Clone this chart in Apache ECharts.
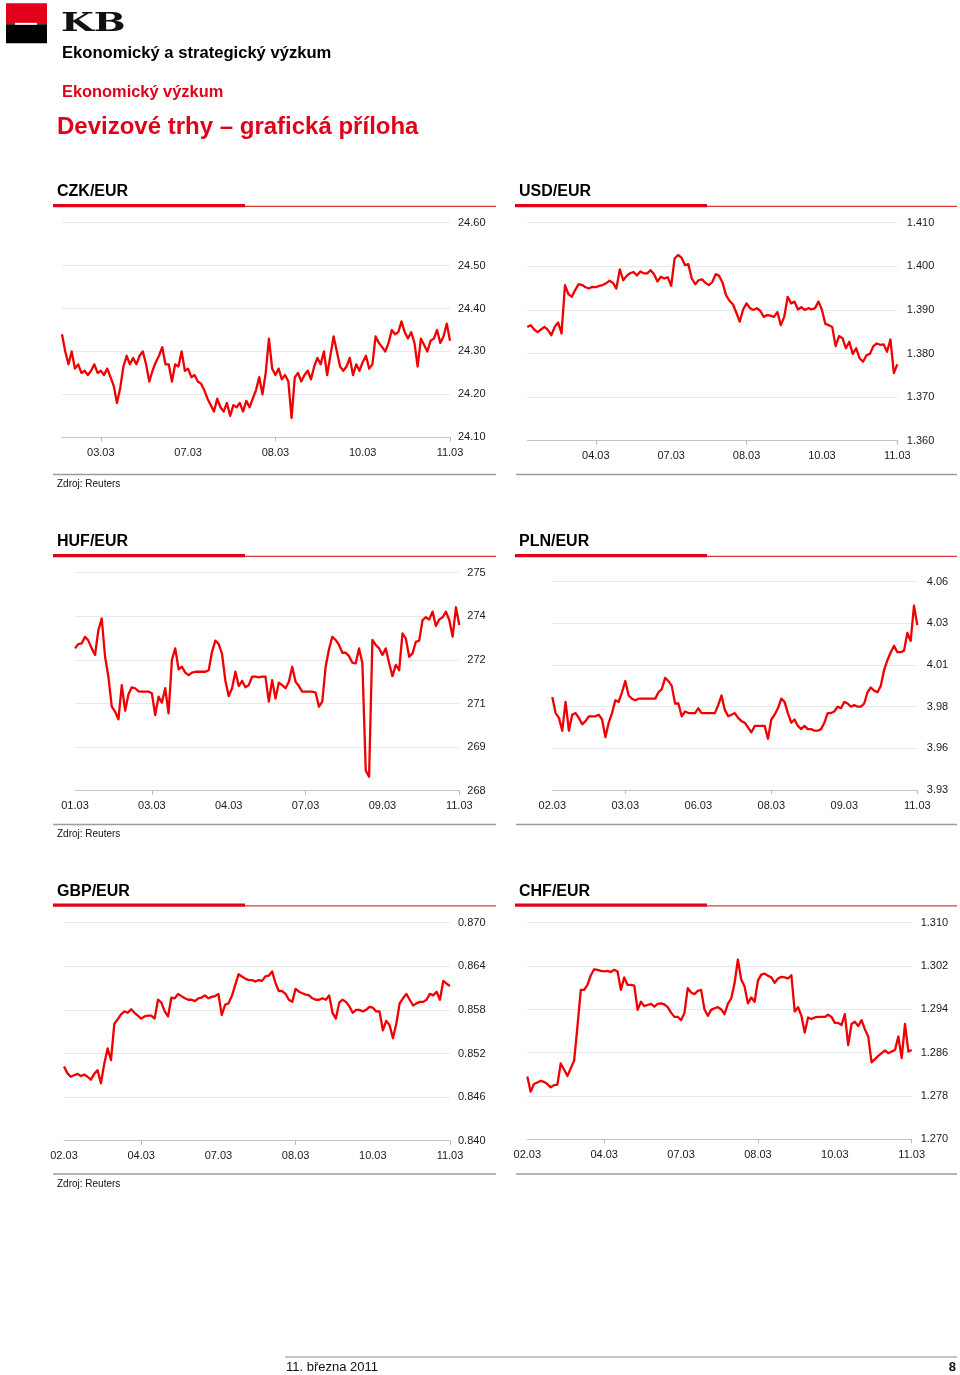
<!DOCTYPE html>
<html>
<head>
<meta charset="utf-8">
<script src="https://cdn.jsdelivr.net/npm/echarts@6/dist/echarts.min.js"></script>
<style>
html,body{margin:0;padding:0;background:#fff;}
#c{width:960px;height:1375px;}
</style>
</head>
<body>
<div id="c"></div>
<script>
// ---------- DATA ----------
const czkValues = [24.34,24.30,24.27,24.30,24.26,24.27,24.25,24.255,24.245,24.255,
 24.27,24.25,24.255,24.245,24.26,24.24,24.22,24.18,24.215,24.265,
 24.29,24.27,24.285,24.27,24.29,24.30,24.27,24.23,24.255,24.275,
 24.29,24.31,24.27,24.27,24.23,24.27,24.265,24.30,24.255,24.26,
 24.24,24.245,24.23,24.225,24.21,24.19,24.175,24.16,24.19,24.17,
 24.16,24.18,24.15,24.175,24.17,24.18,24.16,24.185,24.17,24.19,
 24.21,24.24,24.20,24.25,24.33,24.26,24.245,24.26,24.235,24.245,
 24.23,24.145,24.24,24.25,24.23,24.245,24.255,24.235,24.265,24.285,
 24.27,24.30,24.245,24.29,24.335,24.30,24.265,24.255,24.265,24.285,
 24.245,24.27,24.255,24.275,24.29,24.26,24.27,24.335,24.32,24.31,
 24.30,24.32,24.35,24.34,24.345,24.37,24.345,24.33,24.345,24.32,
 24.265,24.33,24.315,24.30,24.325,24.33,24.35,24.32,24.335,24.365,
 24.325];
const czkLabels = ['03.03','07.03','08.03','10.03','11.03'];
const czkLabelIdx = [12,39,66,93,120];
const czkTickIdx = [12,66,120];
const czkAxis = [24.10, 24.60, 0.10];

const usdValues = [1.3861,1.3865,1.3855,1.3849,1.3855,1.3861,1.3854,1.3842,1.3861,1.3871,
 1.3846,1.3957,1.3936,1.3930,1.3946,1.3959,1.3957,1.3952,1.3949,1.3953,
 1.3952,1.3955,1.3957,1.3961,1.3967,1.3962,1.3949,1.3993,1.3968,1.3978,
 1.3984,1.3987,1.3979,1.3988,1.3984,1.3984,1.3991,1.3982,1.3965,1.3976,
 1.3972,1.3975,1.3955,1.4018,1.4026,1.4020,1.4003,1.4005,1.3972,1.3959,
 1.3968,1.3970,1.3962,1.3957,1.3964,1.3982,1.3978,1.3962,1.3934,1.3921,
 1.3913,1.3894,1.3873,1.3901,1.3915,1.3904,1.3900,1.3904,1.3898,1.3884,
 1.3888,1.3887,1.3884,1.3895,1.3865,1.3884,1.3930,1.3915,1.3919,1.3901,
 1.3906,1.3900,1.3904,1.3901,1.3904,1.3919,1.3900,1.3868,1.3865,1.3861,
 1.3817,1.3840,1.3835,1.3812,1.3827,1.3799,1.3812,1.3789,1.3781,1.3796,
 1.3799,1.3817,1.3823,1.3820,1.3821,1.3804,1.3832,1.3755,1.3775];
const usdLabels = ['04.03','07.03','08.03','10.03','11.03'];
const usdLabelIdx = [20,42,64,86,108];
const usdTickIdx = [20,64,108];
const usdAxis = [1.360, 1.410, 0.010];

const hufValues = [272.57,272.71,272.73,272.94,272.82,272.57,272.36,273.16,273.53,272.30,
 271.66,270.70,270.54,270.29,271.39,270.57,271.10,271.32,271.29,271.19,
 271.18,271.18,271.18,271.13,270.43,271.02,270.83,271.29,270.48,272.20,
 272.57,271.90,271.98,271.79,271.71,271.79,271.82,271.82,271.82,271.82,
 271.87,272.46,272.82,272.71,272.39,271.53,271.04,271.29,271.82,271.36,
 271.53,271.32,271.39,271.66,271.66,271.64,271.66,271.66,270.86,271.55,
 270.96,271.47,271.39,271.29,271.50,271.98,271.50,271.36,271.18,271.18,
 271.18,271.18,271.15,270.70,270.86,271.98,272.54,272.94,272.84,272.68,
 272.43,272.43,272.32,272.11,272.09,272.57,272.09,268.65,268.45,272.84,
 272.68,272.57,272.36,272.57,272.09,271.68,272.04,271.87,273.05,272.89,
 272.30,272.41,272.78,272.82,273.48,273.57,273.50,273.75,273.29,273.50,
 273.57,273.75,273.48,272.95,273.89,273.32];
const hufLabels = ['01.03','03.03','04.03','07.03','09.03','11.03'];
const hufLabelIdx = [0,23,46,69,92,115];
const hufTickIdx = [23,69,115];
const hufAxis = [268, 275, 1.4];

const plnValues = [3.988,3.978,3.975,3.967,3.985,3.967,3.977,3.978,3.975,3.971,
 3.973,3.976,3.976,3.976,3.977,3.974,3.963,3.972,3.978,3.986,
 3.985,3.991,3.998,3.989,3.987,3.986,3.987,3.987,3.987,3.987,
 3.987,3.987,3.991,3.993,4.000,3.998,3.995,3.984,3.984,3.976,
 3.979,3.978,3.978,3.978,3.981,3.978,3.978,3.978,3.978,3.978,
 3.983,3.989,3.980,3.976,3.977,3.978,3.975,3.973,3.972,3.969,
 3.966,3.970,3.970,3.970,3.970,3.962,3.974,3.977,3.981,3.987,
 3.985,3.978,3.972,3.974,3.970,3.968,3.970,3.968,3.968,3.967,
 3.967,3.968,3.972,3.978,3.978,3.979,3.982,3.981,3.985,3.984,
 3.982,3.983,3.982,3.982,3.984,3.991,3.994,3.992,3.991,3.995,
 4.005,4.011,4.016,4.020,4.016,4.016,4.017,4.028,4.023,4.045,
 4.033];
const plnLabels = ['02.03','03.03','06.03','08.03','09.03','11.03'];
const plnLabelIdx = [0,22,44,66,88,110];
const plnTickIdx = [22,66,110];
const plnAxis = [3.93, 4.06, 0.026];

const gbpValues = [0.8502,0.8493,0.8488,0.8490,0.8492,0.8489,0.8491,0.8488,0.8484,0.8492,
 0.8497,0.8479,0.8506,0.8527,0.8511,0.8561,0.8567,0.8574,0.8578,0.8576,
 0.8581,0.8576,0.8572,0.8568,0.8571,0.8572,0.8572,0.8568,0.8594,0.8590,
 0.8578,0.8571,0.8597,0.8596,0.8602,0.8599,0.8596,0.8594,0.8594,0.8592,
 0.8596,0.8597,0.8600,0.8596,0.8598,0.8599,0.8602,0.8573,0.8587,0.8589,
 0.8599,0.8614,0.8629,0.8626,0.8623,0.8621,0.8621,0.8619,0.8621,0.8620,
 0.8626,0.8627,0.8633,0.8617,0.8606,0.8606,0.8602,0.8594,0.8591,0.8609,
 0.8605,0.8603,0.8601,0.8600,0.8596,0.8594,0.8594,0.8596,0.8594,0.8600,
 0.8576,0.8568,0.8590,0.8594,0.8591,0.8585,0.8576,0.8580,0.8580,0.8578,
 0.8580,0.8584,0.8583,0.8578,0.8578,0.8552,0.8565,0.8559,0.8541,0.8561,
 0.8589,0.8596,0.8602,0.8594,0.8586,0.8589,0.8591,0.8591,0.8594,0.8602,
 0.8600,0.8605,0.8594,0.8620,0.8616,0.8613];
const gbpLabels = ['02.03','04.03','07.03','08.03','10.03','11.03'];
const gbpLabelIdx = [0,23,46,69,92,115];
const gbpTickIdx = [23,69,115];
const gbpAxis = [0.840, 0.870, 0.006];

const chfValues = [1.2816,1.2788,1.2802,1.2805,1.2808,1.2806,1.2802,1.2796,1.2800,1.2801,
 1.2840,1.2829,1.2817,1.2831,1.2845,1.2908,1.2976,1.2976,1.2985,1.3003,
 1.3014,1.3013,1.3011,1.3010,1.3011,1.3009,1.3013,1.3010,1.2976,1.2999,
 1.2985,1.2985,1.2984,1.2939,1.2954,1.2946,1.2948,1.2950,1.2945,1.2950,
 1.2951,1.2949,1.2944,1.2934,1.2926,1.2926,1.2920,1.2933,1.2979,1.2971,
 1.2968,1.2974,1.2976,1.2940,1.2928,1.2939,1.2942,1.2944,1.2940,1.2931,
 1.2950,1.2960,1.2988,1.3032,1.2995,1.2982,1.2951,1.2962,1.2954,1.2993,
 1.3004,1.3006,1.3002,1.2999,1.2989,1.2997,1.3000,1.2999,1.2997,1.3003,
 1.2936,1.2944,1.2928,1.2897,1.2925,1.2922,1.2925,1.2926,1.2926,1.2926,
 1.2930,1.2926,1.2915,1.2915,1.2911,1.2931,1.2874,1.2913,1.2917,1.2909,
 1.2920,1.2903,1.2890,1.2842,1.2848,1.2854,1.2859,1.2864,1.2859,1.2862,
 1.2865,1.2890,1.2850,1.2913,1.2862,1.2865];
const chfLabels = ['02.03','04.03','07.03','08.03','10.03','11.03'];
const chfLabelIdx = [0,23,46,69,92,115];
const chfTickIdx = [23,69,115];
const chfAxis = [1.270, 1.310, 0.008];

const panelTitles = ['CZK/EUR','USD/EUR','HUF/EUR','PLN/EUR','GBP/EUR','CHF/EUR'];

// ---------- BUILD ----------
const RED = '#e2001a';
const LINE_RED = '#f00000';
const FONT = 'Liberation Sans, Arial, Helvetica, sans-serif';

const panels = [
  {v:czkValues, lab:czkLabels, li:czkLabelIdx, ti:czkTickIdx, ax:czkAxis, dec:2, grid:{left:62, top:222.7, width:388, height:214.6}, ym:8},
  {v:usdValues, lab:usdLabels, li:usdLabelIdx, ti:usdTickIdx, ax:usdAxis, dec:3, grid:{left:527.3, top:222.7, width:370, height:218}, ym:9.5},
  {v:hufValues, lab:hufLabels, li:hufLabelIdx, ti:hufTickIdx, ax:hufAxis, dec:0, grid:{left:75, top:572.7, width:384.3, height:218}, ym:8},
  {v:plnValues, lab:plnLabels, li:plnLabelIdx, ti:plnTickIdx, ax:plnAxis, dec:2, grid:{left:552.3, top:581.7, width:365, height:208.3}, ym:9.5},
  {v:gbpValues, lab:gbpLabels, li:gbpLabelIdx, ti:gbpTickIdx, ax:gbpAxis, dec:3, grid:{left:64, top:922.7, width:386, height:218}, ym:8},
  {v:chfValues, lab:chfLabels, li:chfLabelIdx, ti:chfTickIdx, ax:chfAxis, dec:3, grid:{left:527.3, top:922.7, width:384.4, height:216.6}, ym:9}
];

const grids = [], xAxes = [], yAxes = [], series = [];
panels.forEach((p, k) => {
  grids.push(Object.assign({containLabel:false}, p.grid));
  const cats = p.v.map((_, i) => String(i));
  const labMap = {};
  p.li.forEach((idx, j) => { labMap[idx] = p.lab[j]; });
  xAxes.push({
    type:'category', gridIndex:k, data:cats, boundaryGap:false,
    axisLine:{show:true, lineStyle:{color:'#c4c4c4', width:1}},
    axisTick:{show:true, length:4, lineStyle:{color:'#b8b8b8'},
      interval:(i) => p.ti.indexOf(i) >= 0},
    axisLabel:{show:true, margin:10, color:'#1a1a1a', fontSize:11, fontFamily:FONT,
      interval:(i) => p.li.indexOf(i) >= 0,
      formatter:(val, i) => labMap[i] !== undefined ? labMap[i] : ''},
    splitLine:{show:false}
  });
  yAxes.push({
    type:'value', gridIndex:k, position:'right',
    min:p.ax[0], max:p.ax[1], interval:p.ax[2],
    axisLine:{show:false}, axisTick:{show:false},
    axisLabel:{margin:p.ym, color:'#1a1a1a', fontSize:11, fontFamily:FONT, align:'left',
      formatter:(v) => Number(v).toFixed(p.dec)},
    splitLine:{show:true, lineStyle:{color:'#e9e9e9', width:1}}
  });
  series.push({
    type:'line', xAxisIndex:k, yAxisIndex:k, data:p.v,
    showSymbol:false, symbol:'none', smooth:false,
    lineStyle:{color:LINE_RED, width:2.3, join:'round'}, animation:false
  });
});

// Decorations
const g = [];
// logo
g.push({type:'rect', shape:{x:6, y:3.3, width:41, height:21}, style:{fill:RED}});
g.push({type:'rect', shape:{x:6, y:24.3, width:41, height:19}, style:{fill:'#000'}});
g.push({type:'rect', shape:{x:15, y:22.8, width:22, height:2}, style:{fill:'#fff'}});
g.push({type:'text', x:61, y:24.5, scaleX:1.45, style:{x:0, y:0, text:'KB', fill:'#111',
  font:'bold 26px "DejaVu Serif", "Liberation Serif", serif', verticalAlign:'middle'}});
g.push({type:'text', x:62, y:53.5, style:{text:'Ekonomický a strategický výzkum', fill:'#000',
  font:'bold 16.6px '+FONT, verticalAlign:'middle'}});
g.push({type:'text', x:62, y:92, style:{text:'Ekonomický výzkum', fill:RED,
  font:'bold 16.4px '+FONT, verticalAlign:'middle'}});
g.push({type:'text', x:57, y:127.5, style:{text:'Devizové trhy – grafická příloha', fill:RED,
  font:'bold 24px '+FONT, verticalAlign:'middle'}});

const rowOff = [0, 350, 699.5];
const colX = [{tx:57, b0:53, b1:245, b2:496, g0:53, g1:496}, {tx:519, b0:515, b1:707, b2:957, g0:516, g1:957}];
rowOff.forEach((dy, r) => {
  colX.forEach((c, ci) => {
    g.push({type:'text', x:c.tx, y:192 + dy, style:{text:panelTitles[r*2+ci], fill:'#000',
      font:'bold 16px '+FONT, verticalAlign:'middle'}});
    g.push({type:'line', shape:{x1:c.b1, y1:206.3 + dy, x2:c.b2, y2:206.3 + dy}, style:{stroke:'#d83a3a', lineWidth:1.3}});
    g.push({type:'rect', shape:{x:c.b0, y:204 + dy, width:c.b1 - c.b0, height:3.2}, style:{fill:RED}});
    g.push({type:'line', shape:{x1:c.g0, y1:474.5 + dy, x2:c.g1, y2:474.5 + dy}, style:{stroke:'#9c9c9c', lineWidth:1.3}});
  });
  g.push({type:'text', x:57, y:484.5 + dy, style:{text:'Zdroj: Reuters', fill:'#111',
    font:'10px '+FONT, verticalAlign:'middle'}});
});
// footer
g.push({type:'line', shape:{x1:285, y1:1357, x2:957, y2:1357}, style:{stroke:'#8a8a8a', lineWidth:1}});
g.push({type:'text', x:286, y:1367, style:{text:'11. března 2011', fill:'#111',
  font:'13px '+FONT, verticalAlign:'middle'}});
g.push({type:'text', x:956, y:1367, style:{text:'8', fill:'#111',
  font:'bold 13px '+FONT, verticalAlign:'middle', align:'right'}});

const chart = echarts.init(document.getElementById('c'), null, {renderer:'canvas'});
chart.setOption({
  backgroundColor:'#fff',
  animation:false,
  grid:grids, xAxis:xAxes, yAxis:yAxes, series:series,
  graphic:{elements:g}
});
</script>
</body>
</html>
